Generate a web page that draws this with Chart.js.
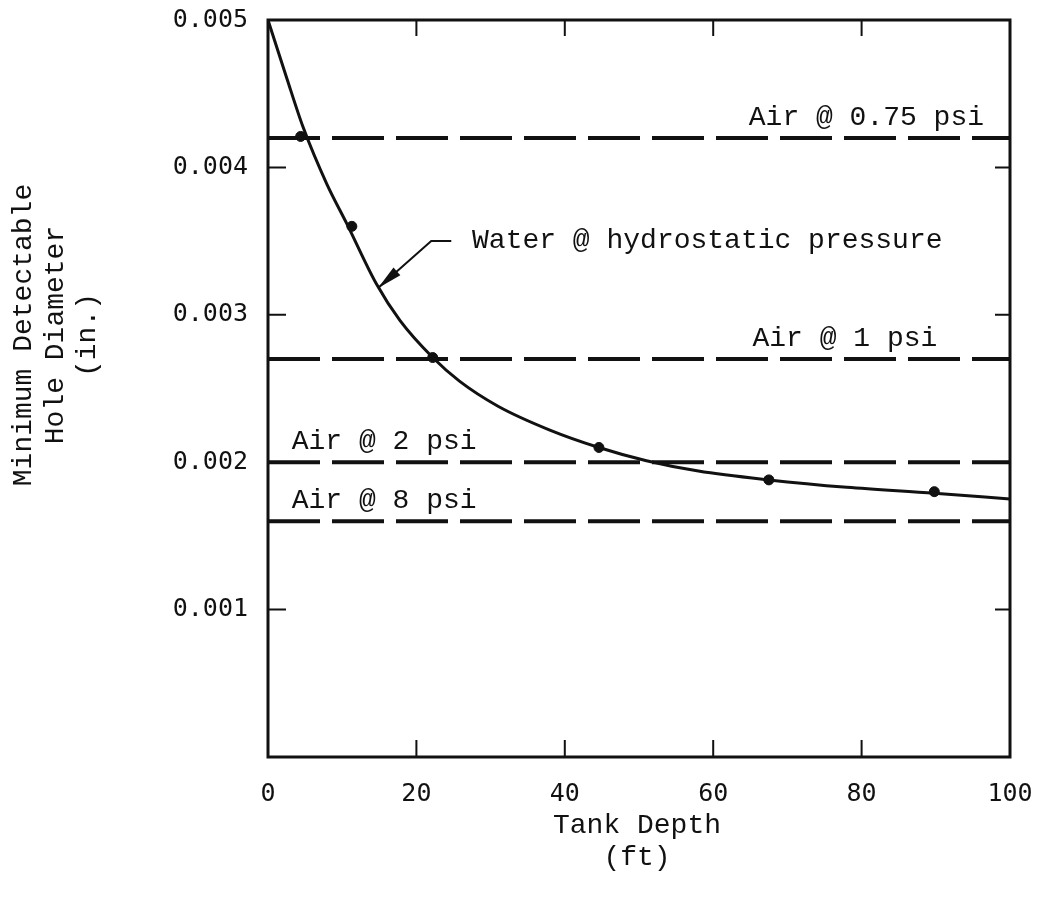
<!DOCTYPE html>
<html>
<head>
<meta charset="utf-8">
<title>Minimum Detectable Hole Diameter vs Tank Depth</title>
<script src="https://cdn.jsdelivr.net/npm/chart.js@4.4.0/dist/chart.umd.min.js"></script>
<style>
    html, body { margin: 0; padding: 0; background: #fff; }
    #wrap { width: 1042px; height: 913px; position: relative; }
</style>
</head>
<body>
<div id="wrap"><canvas id="holeChart"></canvas></div>
<script>
// Water curve
const curveDepth = [0, 2.5, 4.75, 7.9, 10.6, 14.6, 17.8, 22.2, 25.8, 31, 37.9, 44.6, 51, 58, 67.5, 78, 89.8, 100];
const curveDiameter = [0.005, 0.00461, 0.00427, 0.00389, 0.00362, 0.00321, 0.00296, 0.00271, 0.00255, 0.00238, 0.00222, 0.0021, 0.00201, 0.00194, 0.00188, 0.00183, 0.00179, 0.00175];

// Measured points on the water curve
const pointDepth = [4.4, 11.3, 22.2, 44.6, 67.5, 89.8];
const pointDiameter = [0.00421, 0.0036, 0.00271, 0.0021, 0.00188, 0.0018];

// Air test levels
const airLabels = ['Air @ 0.75 psi', 'Air @ 1 psi', 'Air @ 2 psi', 'Air @ 8 psi'];
const airDiameter = [0.0042, 0.0027, 0.002, 0.0016];

const waterLabel = 'Water @ hydrostatic pressure';

// Axis ticks and titles
const xTicks = [0, 20, 40, 60, 80, 100];
const yTicks = [0.001, 0.002, 0.003, 0.004, 0.005];
const xTitle = ['Tank Depth', '(ft)'];
const yTitle = ['Minimum Detectable', 'Hole Diameter', '(in.)'];

const INK = '#111';
const TEXT_FONT = '28px "Liberation Mono", "DejaVu Sans Mono", monospace';

// Where the air labels go: x in ft, alignment
const airLabelPlace = [
    { x: 96.5, align: 'right' },
    { x: 90.2, align: 'right' },
    { x: 3.2, align: 'left' },
    { x: 3.2, align: 'left' }
];

// Build datasets
const datasets = [];
datasets.push({
    label: 'Water',
    data: curveDepth.map((x, i) => ({ x, y: curveDiameter[i] })),
    borderColor: INK,
    borderWidth: 3,
    pointRadius: 0,
    cubicInterpolationMode: 'monotone',
    fill: false
});
datasets.push({
    label: 'Points',
    data: pointDepth.map((x, i) => ({ x, y: pointDiameter[i] })),
    showLine: false,
    pointRadius: 5,
    pointBackgroundColor: INK,
    pointBorderColor: INK
});
airDiameter.forEach((d, i) => {
    datasets.push({
        label: airLabels[i],
        data: [{ x: 0, y: d }, { x: 100, y: d }],
        borderColor: INK,
        borderWidth: 4,
        borderDash: [52, 12],
        pointRadius: 0,
        fill: false
    });
});

// Frame, inner ticks, labels, leader arrow and axis titles
const decorPlugin = {
    id: 'decor',
    afterDraw(chart) {
        const ctx = chart.ctx;
        const area = chart.chartArea;
        const xs = chart.scales.x;
        const ys = chart.scales.y;
        ctx.save();
        ctx.strokeStyle = INK;
        ctx.fillStyle = INK;

        // frame
        ctx.lineWidth = 3;
        ctx.strokeRect(area.left, area.top, area.right - area.left, area.bottom - area.top);

        // inner ticks
        ctx.lineWidth = 2;
        xTicks.slice(1, -1).forEach(v => {
            const px = xs.getPixelForValue(v);
            ctx.beginPath();
            ctx.moveTo(px, area.bottom); ctx.lineTo(px, area.bottom - 17);
            ctx.moveTo(px, area.top); ctx.lineTo(px, area.top + 16);
            ctx.stroke();
        });
        yTicks.slice(0, -1).forEach(v => {
            const py = ys.getPixelForValue(v);
            ctx.beginPath();
            ctx.moveTo(area.left, py); ctx.lineTo(area.left + 18, py);
            ctx.moveTo(area.right, py); ctx.lineTo(area.right - 15, py);
            ctx.stroke();
        });

        // air labels
        ctx.font = TEXT_FONT;
        ctx.textBaseline = 'alphabetic';
        airLabels.forEach((t, i) => {
            ctx.textAlign = airLabelPlace[i].align;
            ctx.fillText(t, xs.getPixelForValue(airLabelPlace[i].x), ys.getPixelForValue(airDiameter[i]) - 13);
        });

        // water label with leader
        ctx.textAlign = 'left';
        ctx.fillText(waterLabel, xs.getPixelForValue(27.5), ys.getPixelForValue(0.003456));
        const a = [xs.getPixelForValue(24.7), ys.getPixelForValue(0.0035)];
        const b = [xs.getPixelForValue(22.0), ys.getPixelForValue(0.0035)];
        const c = [xs.getPixelForValue(14.8), ys.getPixelForValue(0.00318)];
        ctx.lineWidth = 2;
        ctx.beginPath();
        ctx.moveTo(a[0], a[1]); ctx.lineTo(b[0], b[1]); ctx.lineTo(c[0], c[1]);
        ctx.stroke();
        const ang = Math.atan2(c[1] - b[1], c[0] - b[0]);
        ctx.beginPath();
        ctx.moveTo(c[0], c[1]);
        ctx.lineTo(c[0] - 26 * Math.cos(ang - 0.2), c[1] - 26 * Math.sin(ang - 0.2));
        ctx.lineTo(c[0] - 26 * Math.cos(ang + 0.2), c[1] - 26 * Math.sin(ang + 0.2));
        ctx.closePath();
        ctx.fill();

        // axis titles
        ctx.textAlign = 'center';
        ctx.textBaseline = 'middle';
        ctx.fillText(xTitle[0], 637, 826);
        ctx.fillText(xTitle[1], 637, 858);
        ctx.rotate(-Math.PI / 2);
        yTitle.forEach((t, i) => {
            ctx.fillText(t, -335, 24 + i * 32);
        });
        ctx.restore();
    }
};

const ctx = document.getElementById('holeChart').getContext('2d');
const holeChart = new Chart(ctx, {
    type: 'line',
    data: { datasets },
    options: {
        responsive: true,
        maintainAspectRatio: false,
        animation: false,
        layout: { padding: { top: 20, right: 32, left: 0, bottom: 0 } },
        plugins: {
            legend: { display: false },
            tooltip: { enabled: false }
        },
        scales: {
            x: {
                type: 'linear',
                min: 0,
                max: 100,
                grid: { display: false },
                border: { display: false },
                afterFit(scale) {
                    scale.height = 156;
                    scale.paddingLeft = 0;
                    scale.paddingRight = 0;
                },
                afterBuildTicks(scale) { scale.ticks = xTicks.map(v => ({ value: v })); },
                ticks: {
                    color: INK,
                    padding: 14,
                    maxRotation: 0,
                    font: { family: '"DejaVu Sans Mono", monospace', size: 25 }
                }
            },
            y: {
                type: 'linear',
                min: 0,
                max: 0.005,
                grid: { display: false },
                border: { display: false },
                afterFit(scale) {
                    scale.width = 268;
                    scale.paddingTop = 0;
                    scale.paddingBottom = 0;
                },
                afterBuildTicks(scale) { scale.ticks = yTicks.map(v => ({ value: v })); },
                ticks: {
                    color: INK,
                    padding: 12,
                    font: { family: '"DejaVu Sans Mono", monospace', size: 25 },
                    callback: v => v.toFixed(3)
                }
            }
        }
    },
    plugins: [decorPlugin]
});
</script>
</body>
</html>
